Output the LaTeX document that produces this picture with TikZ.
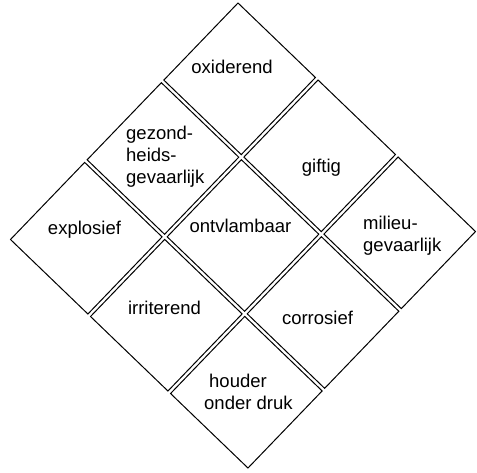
\documentclass[tikz,border=0pt]{standalone}
\usepackage{fontspec}
\setmainfont{Liberation Sans}
\begin{document}
\begin{tikzpicture}[x=1pt,y=-1pt,
  cell/.style={draw=black, line width=1pt, line join=miter},
  lbl/.style={font=\fontsize{18.5}{22}\selectfont, inner sep=0pt, text=black}]
\useasboundingbox (0,0) rectangle (477,473);
\def\cs{0.3253}
\def\gp{0.011}
\foreach \i in {0,1,2}{
  \foreach \j in {0,1,2}{
    \pgfmathsetmacro\sa{\i*(\cs+\gp)}
    \pgfmathsetmacro\sb{\sa+\cs}
    \pgfmathsetmacro\ta{\j*(\cs+\gp)}
    \pgfmathsetmacro\tb{\ta+\cs}
    \draw[cell] ({238+\sa*238-\ta*228},{3+\sa*229+\ta*237})
      -- ({238+\sb*238-\ta*228},{3+\sb*229+\ta*237})
      -- ({238+\sb*238-\tb*228},{3+\sb*229+\tb*237})
      -- ({238+\sa*238-\tb*228},{3+\sa*229+\tb*237}) -- cycle;
  }
}
\node[lbl, anchor=base] (ox) at (232,74) {oxiderend};
\node[lbl, anchor=base] (gi) at (321.5,173) {giftig};
\node[lbl, anchor=base] (ex) at (84.5,234.5) {explosief};
\node[lbl, anchor=base] (on) at (240.5,232.3) {ontvlambaar};
\node[lbl, anchor=base] (ir) at (164.5,315) {irriterend};
\node[lbl, anchor=base] (co) at (317.5,324) {corrosief};
\node[lbl, anchor=base west, align=left] (ge) at (126,183.5) {gezond-\\heids-\\gevaarlijk};
\node[lbl, anchor=base west, align=left] (mi) at (363,251.5) {milieu-\\gevaarlijk};
\node[lbl, anchor=base west, align=left] (ho) at (204,409.3) {\hspace*{5pt}houder\\onder druk};
\end{tikzpicture}
\end{document}
